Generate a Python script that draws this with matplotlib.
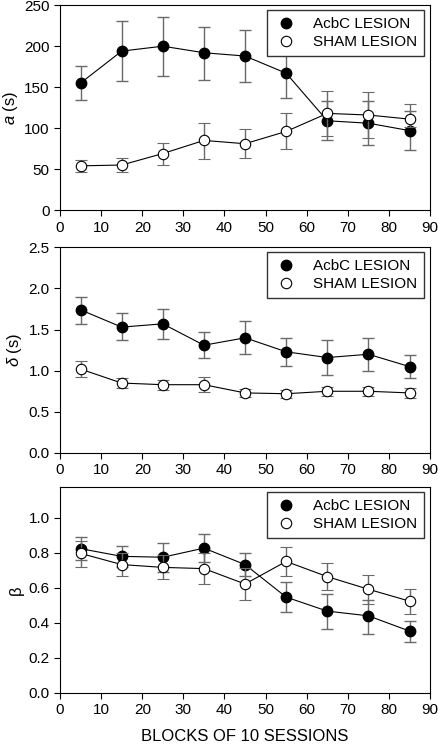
import matplotlib
matplotlib.use('Agg')
import matplotlib.pyplot as plt
from matplotlib.lines import Line2D

plt.rcParams['font.family'] = ['Liberation Sans', 'DejaVu Sans']
plt.rcParams['mathtext.fontset'] = 'custom'
plt.rcParams['mathtext.rm'] = 'Liberation Sans'
plt.rcParams['mathtext.it'] = 'Liberation Sans:italic'

# blocks of 10 sessions (midpoints)
blocks = [5, 15, 25, 35, 45, 55, 65, 75, 85]

# panel a (s)
a_acbc = [155, 194, 200, 192, 188, 167, 109, 106, 97]
a_acbc_lo = [134, 157, 164, 159, 156, 137, 86, 80, 73]
a_acbc_hi = [176, 231, 236, 224, 220, 197, 133, 133, 121]
a_sham = [54, 55, 69, 85, 81, 96, 118, 116, 111]
a_sham_lo = [47, 47, 55, 62, 63, 74, 90, 88, 101]
a_sham_hi = [61, 63, 82, 106, 99, 118, 145, 144, 130]

# panel delta (s)
d_acbc = [1.74, 1.53, 1.57, 1.31, 1.40, 1.23, 1.16, 1.20, 1.05]
d_acbc_lo = [1.57, 1.37, 1.39, 1.15, 1.20, 1.06, 0.95, 1.00, 0.91]
d_acbc_hi = [1.90, 1.70, 1.75, 1.47, 1.60, 1.40, 1.37, 1.40, 1.19]
d_sham = [1.02, 0.85, 0.83, 0.83, 0.73, 0.72, 0.75, 0.75, 0.73]
d_sham_lo = [0.92, 0.79, 0.77, 0.74, 0.68, 0.67, 0.69, 0.69, 0.67]
d_sham_hi = [1.12, 0.91, 0.89, 0.92, 0.78, 0.77, 0.80, 0.80, 0.79]

# panel beta
b_acbc = [0.824, 0.78, 0.775, 0.827, 0.733, 0.547, 0.467, 0.44, 0.353]
b_acbc_lo = [0.76, 0.72, 0.69, 0.745, 0.67, 0.46, 0.364, 0.337, 0.288]
b_acbc_hi = [0.89, 0.84, 0.857, 0.91, 0.797, 0.635, 0.565, 0.53, 0.41]
b_sham = [0.797, 0.733, 0.717, 0.71, 0.622, 0.751, 0.664, 0.592, 0.524]
b_sham_lo = [0.72, 0.668, 0.649, 0.622, 0.531, 0.67, 0.585, 0.51, 0.448]
b_sham_hi = [0.87, 0.80, 0.785, 0.80, 0.713, 0.831, 0.744, 0.672, 0.592]

panels = [
    (a_acbc, a_acbc_lo, a_acbc_hi, a_sham, a_sham_lo, a_sham_hi,
     '$a$ (s)', (0, 250), [0, 50, 100, 150, 200, 250], '{:.0f}'),
    (d_acbc, d_acbc_lo, d_acbc_hi, d_sham, d_sham_lo, d_sham_hi,
     '$\\delta$ (s)', (0, 2.5), [0, 0.5, 1.0, 1.5, 2.0, 2.5], '{:.1f}'),
    (b_acbc, b_acbc_lo, b_acbc_hi, b_sham, b_sham_lo, b_sham_hi,
     '\u03b2', (0, 1.175), [0, 0.2, 0.4, 0.6, 0.8, 1.0], '{:.1f}'),
]

fig = plt.figure(figsize=(4.38, 7.45), dpi=100)
boxes = [[0.137, 0.718, 0.845, 0.275],
         [0.137, 0.392, 0.845, 0.276],
         [0.137, 0.070, 0.845, 0.276]]

ecol = '#6a6a6a'
for box, p in zip(boxes, panels):
    ac, ac_lo, ac_hi, sh, sh_lo, sh_hi, ylab, ylim, yt, fmt = p
    ax = fig.add_axes(box)
    ac_err = [[v - lo for v, lo in zip(ac, ac_lo)], [hi - v for v, hi in zip(ac, ac_hi)]]
    sh_err = [[v - lo for v, lo in zip(sh, sh_lo)], [hi - v for v, hi in zip(sh, sh_hi)]]
    ax.errorbar(blocks, ac, yerr=ac_err, fmt='o-', color='black', lw=0.8,
                ms=7.5, mfc='black', mec='black', ecolor=ecol, elinewidth=1.0,
                capsize=4, capthick=1.0, zorder=3)
    ax.errorbar(blocks, sh, yerr=sh_err, fmt='o-', color='black', lw=0.8,
                ms=7.5, mfc='white', mec='black', mew=0.8, ecolor=ecol,
                elinewidth=1.0, capsize=4, capthick=1.0, zorder=4)
    ax.set_xlim(0, 90)
    ax.set_xticks(range(0, 91, 10))
    ax.set_ylim(*ylim)
    ax.set_yticks(yt)
    ax.set_yticklabels([fmt.format(v) for v in yt])
    ax.tick_params(direction='out', length=4, labelsize=11, width=0.8)
    for s in ax.spines.values():
        s.set_linewidth(0.8)
    ax.set_ylabel(ylab, fontsize=12, labelpad=3)
    handles = [Line2D([], [], ls='none', marker='o', ms=7.5, mfc='black', mec='black'),
               Line2D([], [], ls='none', marker='o', ms=7.5, mfc='white', mec='black', mew=0.8)]
    leg = ax.legend(handles, ['AcbC LESION', 'SHAM LESION'], loc='upper right',
                    bbox_to_anchor=(0.984, 0.975), fontsize=11, frameon=True,
                    fancybox=False, framealpha=1, edgecolor='#333333',
                    borderpad=0.45, handletextpad=1.0, labelspacing=0.25,
                    handlelength=1.6, borderaxespad=0)
    leg.get_frame().set_linewidth(1.0)

fig.text(0.559, 0.002, 'BLOCKS OF 10 SESSIONS', ha='center', va='bottom', fontsize=12)

fig.savefig('out.png', dpi=100)
